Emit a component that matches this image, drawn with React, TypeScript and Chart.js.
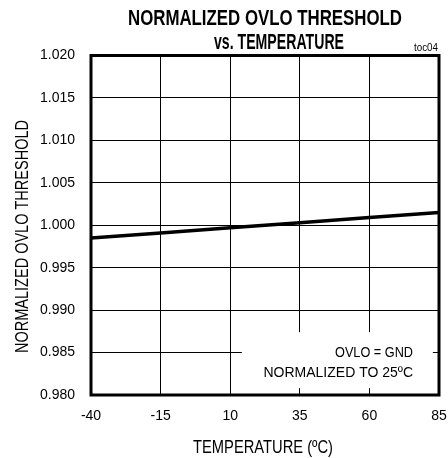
import React, { useEffect, useRef } from "react";
import { Chart, registerables } from "chart.js";

Chart.register(...registerables);

const temperatures = [-40, -15, 10, 35, 60, 85];
const thresholdValues = [0.9985, 0.9991, 0.9997, 1.0003, 1.0009, 1.0015];
const xTickValues = [-40, -15, 10, 35, 60, 85];
const yMin = 0.98;
const yMax = 1.02;
const yStep = 0.005;
const titleLines = ["NORMALIZED OVLO THRESHOLD", "vs. TEMPERATURE"];
const tocLabel = "toc04";
const xTitle = "TEMPERATURE (ºC)";
const yTitle = "NORMALIZED OVLO THRESHOLD";
const noteLines = ["OVLO = GND", "NORMALIZED TO 25ºC"];

const FONT = "'Liberation Sans', Arial, Helvetica, sans-serif";

const decorPlugin = {
  id: "decor",
  beforeDatasetsDraw(chart: any) {
    const { ctx } = chart;
    const xs = chart.scales.x;
    const ys = chart.scales.y;
    const x0 = xs.getPixelForValue(14.2);
    const x1 = xs.getPixelForValue(82.8);
    const y0 = ys.getPixelForValue(0.9874);
    const y1 = ys.getPixelForValue(0.9808);
    ctx.save();
    ctx.fillStyle = "#ffffff";
    ctx.fillRect(x0, y0, x1 - x0, y1 - y0);
    ctx.restore();
  },
  afterDraw(chart: any) {
    const { ctx, chartArea } = chart;
    const { left, right, top, bottom } = chartArea;
    ctx.save();
    ctx.strokeStyle = "#000";
    ctx.lineWidth = 3;
    ctx.strokeRect(left, top, right - left, bottom - top);

    ctx.fillStyle = "#000";
    ctx.font = `bold 22px ${FONT}`;
    ctx.textAlign = "center";
    ctx.textBaseline = "alphabetic";
    ctx.fillText(titleLines[0], 265, 25, 274);
    ctx.fillText(titleLines[1], 279, 49.3, 130);

    ctx.font = `10px ${FONT}`;
    ctx.textAlign = "right";
    ctx.fillText(tocLabel, 438, 51, 24);

    ctx.font = `18px ${FONT}`;
    ctx.textAlign = "center";
    ctx.fillText(xTitle, 263, 453.3, 140);

    ctx.save();
    ctx.translate(28, 236.5);
    ctx.rotate(-Math.PI / 2);
    ctx.textAlign = "center";
    ctx.fillText(yTitle, 0, 0, 233);
    ctx.restore();

    ctx.font = `14px ${FONT}`;
    ctx.textAlign = "right";
    ctx.fillText(noteLines[0], 413, 357, 78);
    ctx.fillText(noteLines[1], 413, 377, 153);
    ctx.restore();
  },
};

export default function App() {
  const canvasRef = useRef<HTMLCanvasElement | null>(null);

  useEffect(() => {
    const canvas = canvasRef.current;
    if (!canvas) return;
    Chart.defaults.font.family = FONT;
    const chart = new Chart(canvas, {
      type: "line",
      data: {
        datasets: [
          {
            data: temperatures.map((t, i) => ({ x: t, y: thresholdValues[i] })),
            borderColor: "#000",
            borderWidth: 3.5,
            pointRadius: 0,
            tension: 0,
            fill: false,
          },
        ],
      },
      options: {
        animation: false,
        responsive: false,
        devicePixelRatio: 1,
        layout: { autoPadding: false, padding: { top: 55.5, right: 0, left: 0, bottom: 0 } },
        plugins: {
          legend: { display: false },
          tooltip: { enabled: false },
          title: { display: false },
        },
        scales: {
          x: {
            type: "linear",
            min: xTickValues[0],
            max: xTickValues[xTickValues.length - 1],
            afterBuildTicks: (scale: any) => {
              scale.ticks = xTickValues.map((v) => ({ value: v }));
            },
            afterFit: (scale: any) => {
              scale.height = 63;
              scale.paddingLeft = 0;
              scale.paddingRight = 9;
            },
            border: { display: false },
            grid: { color: "#000", lineWidth: 1, drawTicks: false },
            ticks: {
              color: "#000",
              font: { size: 14, family: FONT },
              padding: 13,
              maxRotation: 0,
              autoSkip: false,
              callback: (v: any) => String(v),
            },
          },
          y: {
            type: "linear",
            min: yMin,
            max: yMax,
            afterFit: (scale: any) => {
              scale.width = 91;
              scale.paddingTop = 0;
              scale.paddingBottom = 0;
            },
            border: { display: false },
            grid: { color: "#000", lineWidth: 1, drawTicks: false },
            ticks: {
              stepSize: yStep,
              color: "#000",
              font: { size: 14, family: FONT },
              padding: 16,
              autoSkip: false,
              callback: (v: any) => Number(v).toFixed(3),
            },
          },
        },
      },
      plugins: [decorPlugin],
    });
    return () => chart.destroy();
  }, []);

  return (
    <div style={{ position: "absolute", left: 0, top: 0, width: 448, height: 458, background: "#fff" }}>
      <canvas ref={canvasRef} width={448} height={458} style={{ width: 448, height: 458 }} />
    </div>
  );
}
